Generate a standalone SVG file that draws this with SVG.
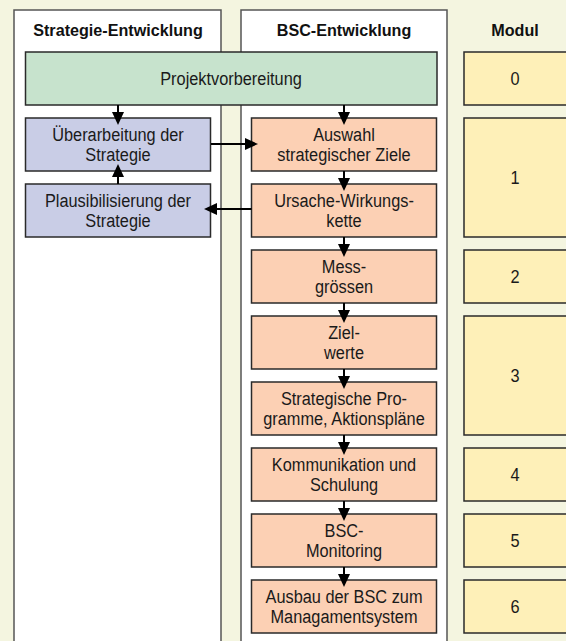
<svg xmlns="http://www.w3.org/2000/svg" width="566" height="641" viewBox="0 0 566 641">
<style>
.bg{fill:#f4f5e0}
.panel{fill:#ffffff;stroke:#555555;stroke-width:1.5}
.box{stroke:#2a2a2a;stroke-width:1.5}
.green{fill:#c7e3cd}
.blue{fill:#c9cde6}
.salmon{fill:#fcd0b4}
.yellow{fill:#fef0b8}
.t{font-family:"Liberation Sans",Arial,sans-serif;font-size:19px;fill:#1a1a1a;text-anchor:middle}
.h{font-family:"Liberation Sans",Arial,sans-serif;font-size:17px;font-weight:bold;fill:#111111;text-anchor:middle}
.conn line{stroke:#000000;stroke-width:2}
</style>
<defs>
<marker id="ah" markerUnits="userSpaceOnUse" markerWidth="13" markerHeight="12" viewBox="0 0 13 12" refX="0.5" refY="6" orient="auto">
<path d="M0,0 L13,6 L0,12 z" fill="#000000"/>
</marker>
</defs>
<rect class="bg" x="0" y="0" width="566" height="641"/>
<g id="panel-strategie">
<rect class="panel" x="14" y="10" width="207" height="640"/>
<text class="h" transform="translate(118,36) scale(0.95,1)">Strategie-Entwicklung</text>
</g>
<g id="panel-bsc">
<rect class="panel" x="241" y="10" width="206" height="640"/>
<text class="h" transform="translate(344,36) scale(0.95,1)">BSC-Entwicklung</text>
</g>
<g id="header-modul">
<text class="h" transform="translate(515,36) scale(0.95,1)">Modul</text>
</g>
<g id="projektvorbereitung">
<rect class="box green" x="25.5" y="52" width="411.5" height="53"/>
<text class="t" transform="translate(231,84.5) scale(0.86,1)">Projektvorbereitung</text>
</g>
<g id="ueberarbeitung">
<rect class="box blue" x="25.5" y="118" width="185" height="53"/>
<text class="t" transform="translate(118,118) scale(0.86,1)"><tspan x="0" y="23.5">Überarbeitung der</tspan><tspan x="0" y="43.5">Strategie</tspan></text>
</g>
<g id="plausibilisierung">
<rect class="box blue" x="25.5" y="184" width="185" height="53"/>
<text class="t" transform="translate(118,184) scale(0.86,1)"><tspan x="0" y="23.5">Plausibilisierung der</tspan><tspan x="0" y="43.5">Strategie</tspan></text>
</g>
<g id="auswahl">
<rect class="box salmon" x="251.5" y="118" width="185" height="53"/>
<text class="t" transform="translate(344,118) scale(0.86,1)"><tspan x="0" y="23.5">Auswahl</tspan><tspan x="0" y="43.5">strategischer Ziele</tspan></text>
</g>
<g id="ursache">
<rect class="box salmon" x="251.5" y="184" width="185" height="53"/>
<text class="t" transform="translate(344,184) scale(0.86,1)"><tspan x="0" y="23.5">Ursache-Wirkungs-</tspan><tspan x="0" y="43.5">kette</tspan></text>
</g>
<g id="messgroessen">
<rect class="box salmon" x="251.5" y="250" width="185" height="53"/>
<text class="t" transform="translate(344,250) scale(0.86,1)"><tspan x="0" y="23.5">Mess-</tspan><tspan x="0" y="43.5">grössen</tspan></text>
</g>
<g id="zielwerte">
<rect class="box salmon" x="251.5" y="316" width="185" height="53"/>
<text class="t" transform="translate(344,316) scale(0.86,1)"><tspan x="0" y="23.5">Ziel-</tspan><tspan x="0" y="43.5">werte</tspan></text>
</g>
<g id="programme">
<rect class="box salmon" x="251.5" y="382" width="185" height="53"/>
<text class="t" transform="translate(344,382) scale(0.86,1)"><tspan x="0" y="23.5">Strategische Pro-</tspan><tspan x="0" y="43.5">gramme, Aktionspläne</tspan></text>
</g>
<g id="kommunikation">
<rect class="box salmon" x="251.5" y="448" width="185" height="53"/>
<text class="t" transform="translate(344,448) scale(0.86,1)"><tspan x="0" y="23.5">Kommunikation und</tspan><tspan x="0" y="43.5">Schulung</tspan></text>
</g>
<g id="monitoring">
<rect class="box salmon" x="251.5" y="514" width="185" height="53"/>
<text class="t" transform="translate(344,514) scale(0.86,1)"><tspan x="0" y="23.5">BSC-</tspan><tspan x="0" y="43.5">Monitoring</tspan></text>
</g>
<g id="ausbau">
<rect class="box salmon" x="251.5" y="580" width="185" height="53"/>
<text class="t" transform="translate(344,580) scale(0.86,1)"><tspan x="0" y="23.5">Ausbau der BSC zum</tspan><tspan x="0" y="43.5">Managamentsystem</tspan></text>
</g>
<g id="modul-0">
<rect class="box yellow" x="464" y="52" width="105" height="53"/>
<text class="t" transform="translate(515,84.5) scale(0.86,1)">0</text>
</g>
<g id="modul-1">
<rect class="box yellow" x="464" y="118" width="105" height="119"/>
<text class="t" transform="translate(515,184) scale(0.86,1)">1</text>
</g>
<g id="modul-2">
<rect class="box yellow" x="464" y="250" width="105" height="53"/>
<text class="t" transform="translate(515,282.5) scale(0.86,1)">2</text>
</g>
<g id="modul-3">
<rect class="box yellow" x="464" y="316" width="105" height="119"/>
<text class="t" transform="translate(515,382) scale(0.86,1)">3</text>
</g>
<g id="modul-4">
<rect class="box yellow" x="464" y="448" width="105" height="53"/>
<text class="t" transform="translate(515,480.5) scale(0.86,1)">4</text>
</g>
<g id="modul-5">
<rect class="box yellow" x="464" y="514" width="105" height="53"/>
<text class="t" transform="translate(515,546.5) scale(0.86,1)">5</text>
</g>
<g id="modul-6">
<rect class="box yellow" x="464" y="580" width="105" height="53"/>
<text class="t" transform="translate(515,612.5) scale(0.86,1)">6</text>
</g>
<g id="connectors" class="conn">
<line x1="118" y1="105" x2="118" y2="112.5" marker-end="url(#ah)"/>
<line x1="344" y1="105" x2="344" y2="112.5" marker-end="url(#ah)"/>
<line x1="118" y1="184" x2="118" y2="176.5" marker-end="url(#ah)"/>
<line x1="211" y1="144" x2="245.5" y2="144" marker-end="url(#ah)"/>
<line x1="251.5" y1="209" x2="216.5" y2="209" marker-end="url(#ah)"/>
<line x1="344" y1="171" x2="344" y2="178.5" marker-end="url(#ah)"/>
<line x1="344" y1="237" x2="344" y2="244.5" marker-end="url(#ah)"/>
<line x1="344" y1="303" x2="344" y2="310.5" marker-end="url(#ah)"/>
<line x1="344" y1="369" x2="344" y2="376.5" marker-end="url(#ah)"/>
<line x1="344" y1="435" x2="344" y2="442.5" marker-end="url(#ah)"/>
<line x1="344" y1="501" x2="344" y2="508.5" marker-end="url(#ah)"/>
<line x1="344" y1="567" x2="344" y2="574.5" marker-end="url(#ah)"/>
</g>
</svg>
